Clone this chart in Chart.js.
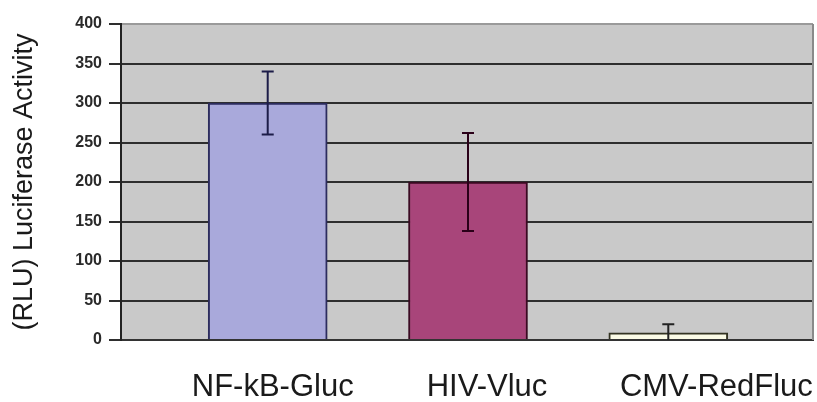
<!DOCTYPE html>
<html><head><meta charset="utf-8">
<script src="https://cdn.jsdelivr.net/npm/chart.js@4/dist/chart.umd.min.js"></script>
<style>html,body{margin:0;padding:0;background:#fff;}#wrap{width:817px;height:402px;}</style>
</head><body><div id="wrap"><canvas id="c" width="817" height="402"></canvas></div>
<script>
const categories = ["NF-kB-Gluc", "HIV-Vluc", "CMV-RedFluc"];
const values = [300, 200, 9];
const errors = [40, 62, 11];
const yTicks = [0, 50, 100, 150, 200, 250, 300, 350, 400];
const yTitle = "(RLU) Luciferase Activity";
const barFill = ["#a9a9db", "#a8457a", "#fbfbe6"];
const barEdge = ["#2c2c5e", "#3a0a22", "#333322"];
const errColor = ["#1c1c48", "#2a0018", "#222222"];
const labelShift = [0.025, 0.095, 0.24];

const FONT = "'Liberation Sans', Arial, sans-serif";

const bgPlugin = {
  id: 'bg',
  beforeDraw(chart) {
    const a = chart.chartArea, ctx = chart.ctx;
    ctx.save();
    ctx.fillStyle = '#c9c9c9';
    ctx.fillRect(a.left, a.top, a.right - a.left, a.bottom - a.top);
    ctx.restore();
  },
  afterDraw(chart) {
    const a = chart.chartArea, ctx = chart.ctx;
    ctx.save();
    ctx.strokeStyle = '#8a8a8a';
    ctx.lineWidth = 2;
    ctx.beginPath();
    ctx.moveTo(a.right, a.top);
    ctx.lineTo(a.right, a.bottom);
    ctx.stroke();
    ctx.restore();
  }
};

const errPlugin = {
  id: 'err',
  afterDatasetsDraw(chart) {
    const ctx = chart.ctx, ys = chart.scales.y, a = chart.chartArea;
    const meta = chart.getDatasetMeta(0);
    ctx.save();
    ctx.beginPath();
    ctx.rect(a.left, a.top, a.right - a.left, a.bottom - a.top);
    ctx.clip();
    meta.data.forEach((bar, i) => {
      const x = bar.x;
      const hi = ys.getPixelForValue(values[i] + errors[i]);
      const lo = ys.getPixelForValue(values[i] - errors[i]);
      ctx.strokeStyle = errColor[i];
      ctx.lineWidth = 2;
      ctx.beginPath();
      ctx.moveTo(x, hi); ctx.lineTo(x, lo);
      ctx.moveTo(x - 6, hi); ctx.lineTo(x + 6, hi);
      ctx.moveTo(x - 6, lo); ctx.lineTo(x + 6, lo);
      ctx.stroke();
    });
    ctx.restore();
  }
};

new Chart(document.getElementById('c'), {
  type: 'bar',
  data: {
    datasets: [{
      data: values.map((v, i) => ({x: i, y: v})),
      backgroundColor: barFill,
      borderColor: barEdge,
      borderWidth: 2,
      barThickness: 119
    }]
  },
  options: {
    responsive: false,
    animation: false,
    devicePixelRatio: 1,
    layout: {padding: {top: 24, right: 4, left: 0, bottom: 0}},
    plugins: {legend: {display: false}, tooltip: {enabled: false}},
    scales: {
      x: {
        type: 'linear',
        offset: false,
        min: -0.7325,
        max: 2.7225,
        afterFit(s) { s.height = 62; s.paddingLeft = 0; s.paddingRight = 0; },
        afterBuildTicks(s) { s.ticks = categories.map((c, i) => ({value: i + labelShift[i]})); },
        grid: {display: false, drawTicks: false},
        border: {display: true, color: '#333', width: 2},
        ticks: {
          autoSkip: false, maxRotation: 0, padding: 29,
          color: '#1a1a1a',
          font: {family: FONT, size: 31},
          callback: (v, i) => categories[i]
        }
      },
      y: {
        min: 0, max: 400,
        afterFit(s) { s.width = 121; },
        afterBuildTicks(s) { s.ticks = yTicks.map(v => ({value: v})); },
        grid: {
          color: c => (c.tick && c.tick.value === 400) ? '#9a9a9a' : '#2e2e2e',
          lineWidth: 2,
          tickColor: '#2e2e2e',
          tickLength: 12,
          drawTicks: true
        },
        border: {display: true, color: '#222', width: 2},
        ticks: {
          padding: 7,
          color: '#2a2a2a',
          font: {family: FONT, size: 16, weight: 'bold'}
        },
        title: {
          display: true, text: yTitle,
          color: '#1a1a1a',
          font: {family: FONT, size: 27},
          padding: {top: 8, bottom: 0}
        }
      }
    }
  },
  plugins: [bgPlugin, errPlugin]
});
</script></body></html>
